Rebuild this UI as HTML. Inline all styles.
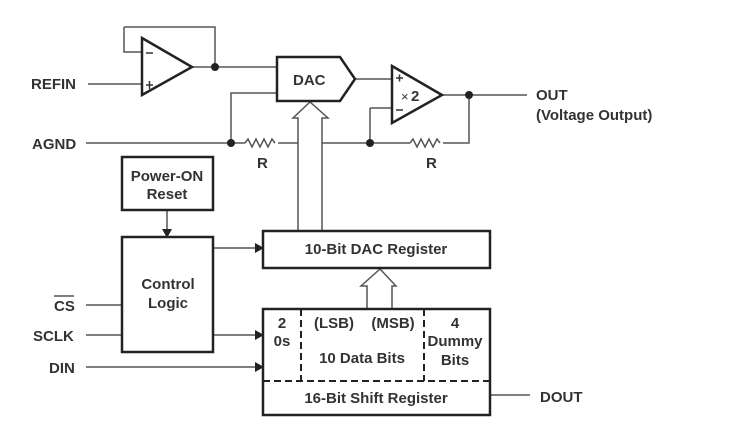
<!DOCTYPE html>
<html><head><meta charset="utf-8"><style>
html,body{margin:0;padding:0;background:#fff;}
svg{display:block;}
text{font-family:"Liberation Sans",Arial,sans-serif;font-weight:bold;font-size:15px;fill:#333;}
</style></head><body>
<svg width="734" height="425" viewBox="0 0 734 425">
<g stroke="#555" stroke-width="1.5" fill="none">
  <path d="M124,27 H215 V67"/>
  <path d="M124,27 V52 H142"/>
  <path d="M88,84 H142"/>
  <path d="M192,67 H277"/>
  <path d="M355,79 H392"/>
  <path d="M442,95 H527"/>
  <path d="M469,95 V143 H443"/>
  <path d="M370,108 H392 M370,108 V143"/>
  <path d="M86,143 H245"/>
  <path d="M277,93 H231 V143"/>
  <path d="M278,143 H298 M322,143 H410"/>
  <path d="M245,143 l3,-4 l4,8 l4,-8 l4,8 l4,-8 l4,8 l4,-8 l3,4"/>
  <path d="M410,143 l3,-4 l4,8 l4,-8 l4,8 l4,-8 l4,8 l4,-8 l3,4"/>
  <path d="M86,305 H123 M86,335 H123 M86,367 H255"/>
  <path d="M213,248 H255 M213,335 H255"/>
  <path d="M490,395 H530"/>
  <path d="M167,210 V230"/>
  <path d="M298,231 V118 H293 L310,102 L328,118 H322 V231" fill="#fff"/>
  <path d="M367,309 V286 H361 L380,269 L396,286 H392 V309" fill="#fff"/>
</g>
<g fill="#222">
  <polygon points="255,243 264,248 255,253"/>
  <polygon points="255,330 264,335 255,340"/>
  <polygon points="255,362 264,367 255,372"/>
  <polygon points="162,229 172,229 167,238"/>
  <circle cx="215" cy="67" r="4"/>
  <circle cx="231" cy="143" r="4"/>
  <circle cx="370" cy="143" r="4"/>
  <circle cx="469" cy="95" r="4"/>
</g>
<g stroke="#222" stroke-width="2.5" fill="#fff">
  <polygon points="142,38 192,67 142,95"/>
  <polygon points="392,66 442,95 392,123"/>
  <polygon points="277,57 340,57 355,79 340,101 277,101"/>
  <rect x="122" y="157" width="91" height="53"/>
  <rect x="122" y="237" width="91" height="115"/>
  <rect x="263" y="231" width="227" height="37"/>
  <rect x="263" y="309" width="227" height="106"/>
</g>
<g stroke="#222" stroke-width="2" stroke-dasharray="7,4" fill="none">
  <path d="M263,381 H490 M301,309 V381 M424,309 V381"/>
</g>
<g stroke="#333" stroke-width="1.5">
  <path d="M146,53 H153 M146,85 H153 M149.5,81 V89"/>
  <path d="M396,78 H403 M399.5,74.5 V81.5 M396,110 H403"/>
</g>
<text x="31" y="89">REFIN</text>
<text x="32" y="149">AGND</text>
<text x="54" y="311">CS</text>
<path d="M54,296 H74" stroke="#333" stroke-width="1.3"/>
<text x="33" y="341">SCLK</text>
<text x="49" y="373">DIN</text>
<text x="293" y="85">DAC</text>
<text x="401" y="101" style="font-weight:normal;font-size:13px">×</text>
<text x="411" y="101">2</text>
<text x="536" y="100">OUT</text>
<text x="536" y="120">(Voltage Output)</text>
<text x="257" y="168">R</text>
<text x="426" y="168">R</text>
<text x="167" y="181" text-anchor="middle">Power-ON</text>
<text x="167" y="199" text-anchor="middle">Reset</text>
<text x="168" y="289" text-anchor="middle">Control</text>
<text x="168" y="308" text-anchor="middle">Logic</text>
<text x="376" y="254" text-anchor="middle">10-Bit DAC Register</text>
<text x="282" y="328" text-anchor="middle">2</text>
<text x="282" y="346" text-anchor="middle">0s</text>
<text x="334" y="328" text-anchor="middle">(LSB)</text>
<text x="393" y="328" text-anchor="middle">(MSB)</text>
<text x="362" y="363" text-anchor="middle">10 Data Bits</text>
<text x="455" y="328" text-anchor="middle">4</text>
<text x="455" y="346" text-anchor="middle">Dummy</text>
<text x="455" y="365" text-anchor="middle">Bits</text>
<text x="376" y="403" text-anchor="middle">16-Bit Shift Register</text>
<text x="540" y="402">DOUT</text>
</svg>
</body></html>
